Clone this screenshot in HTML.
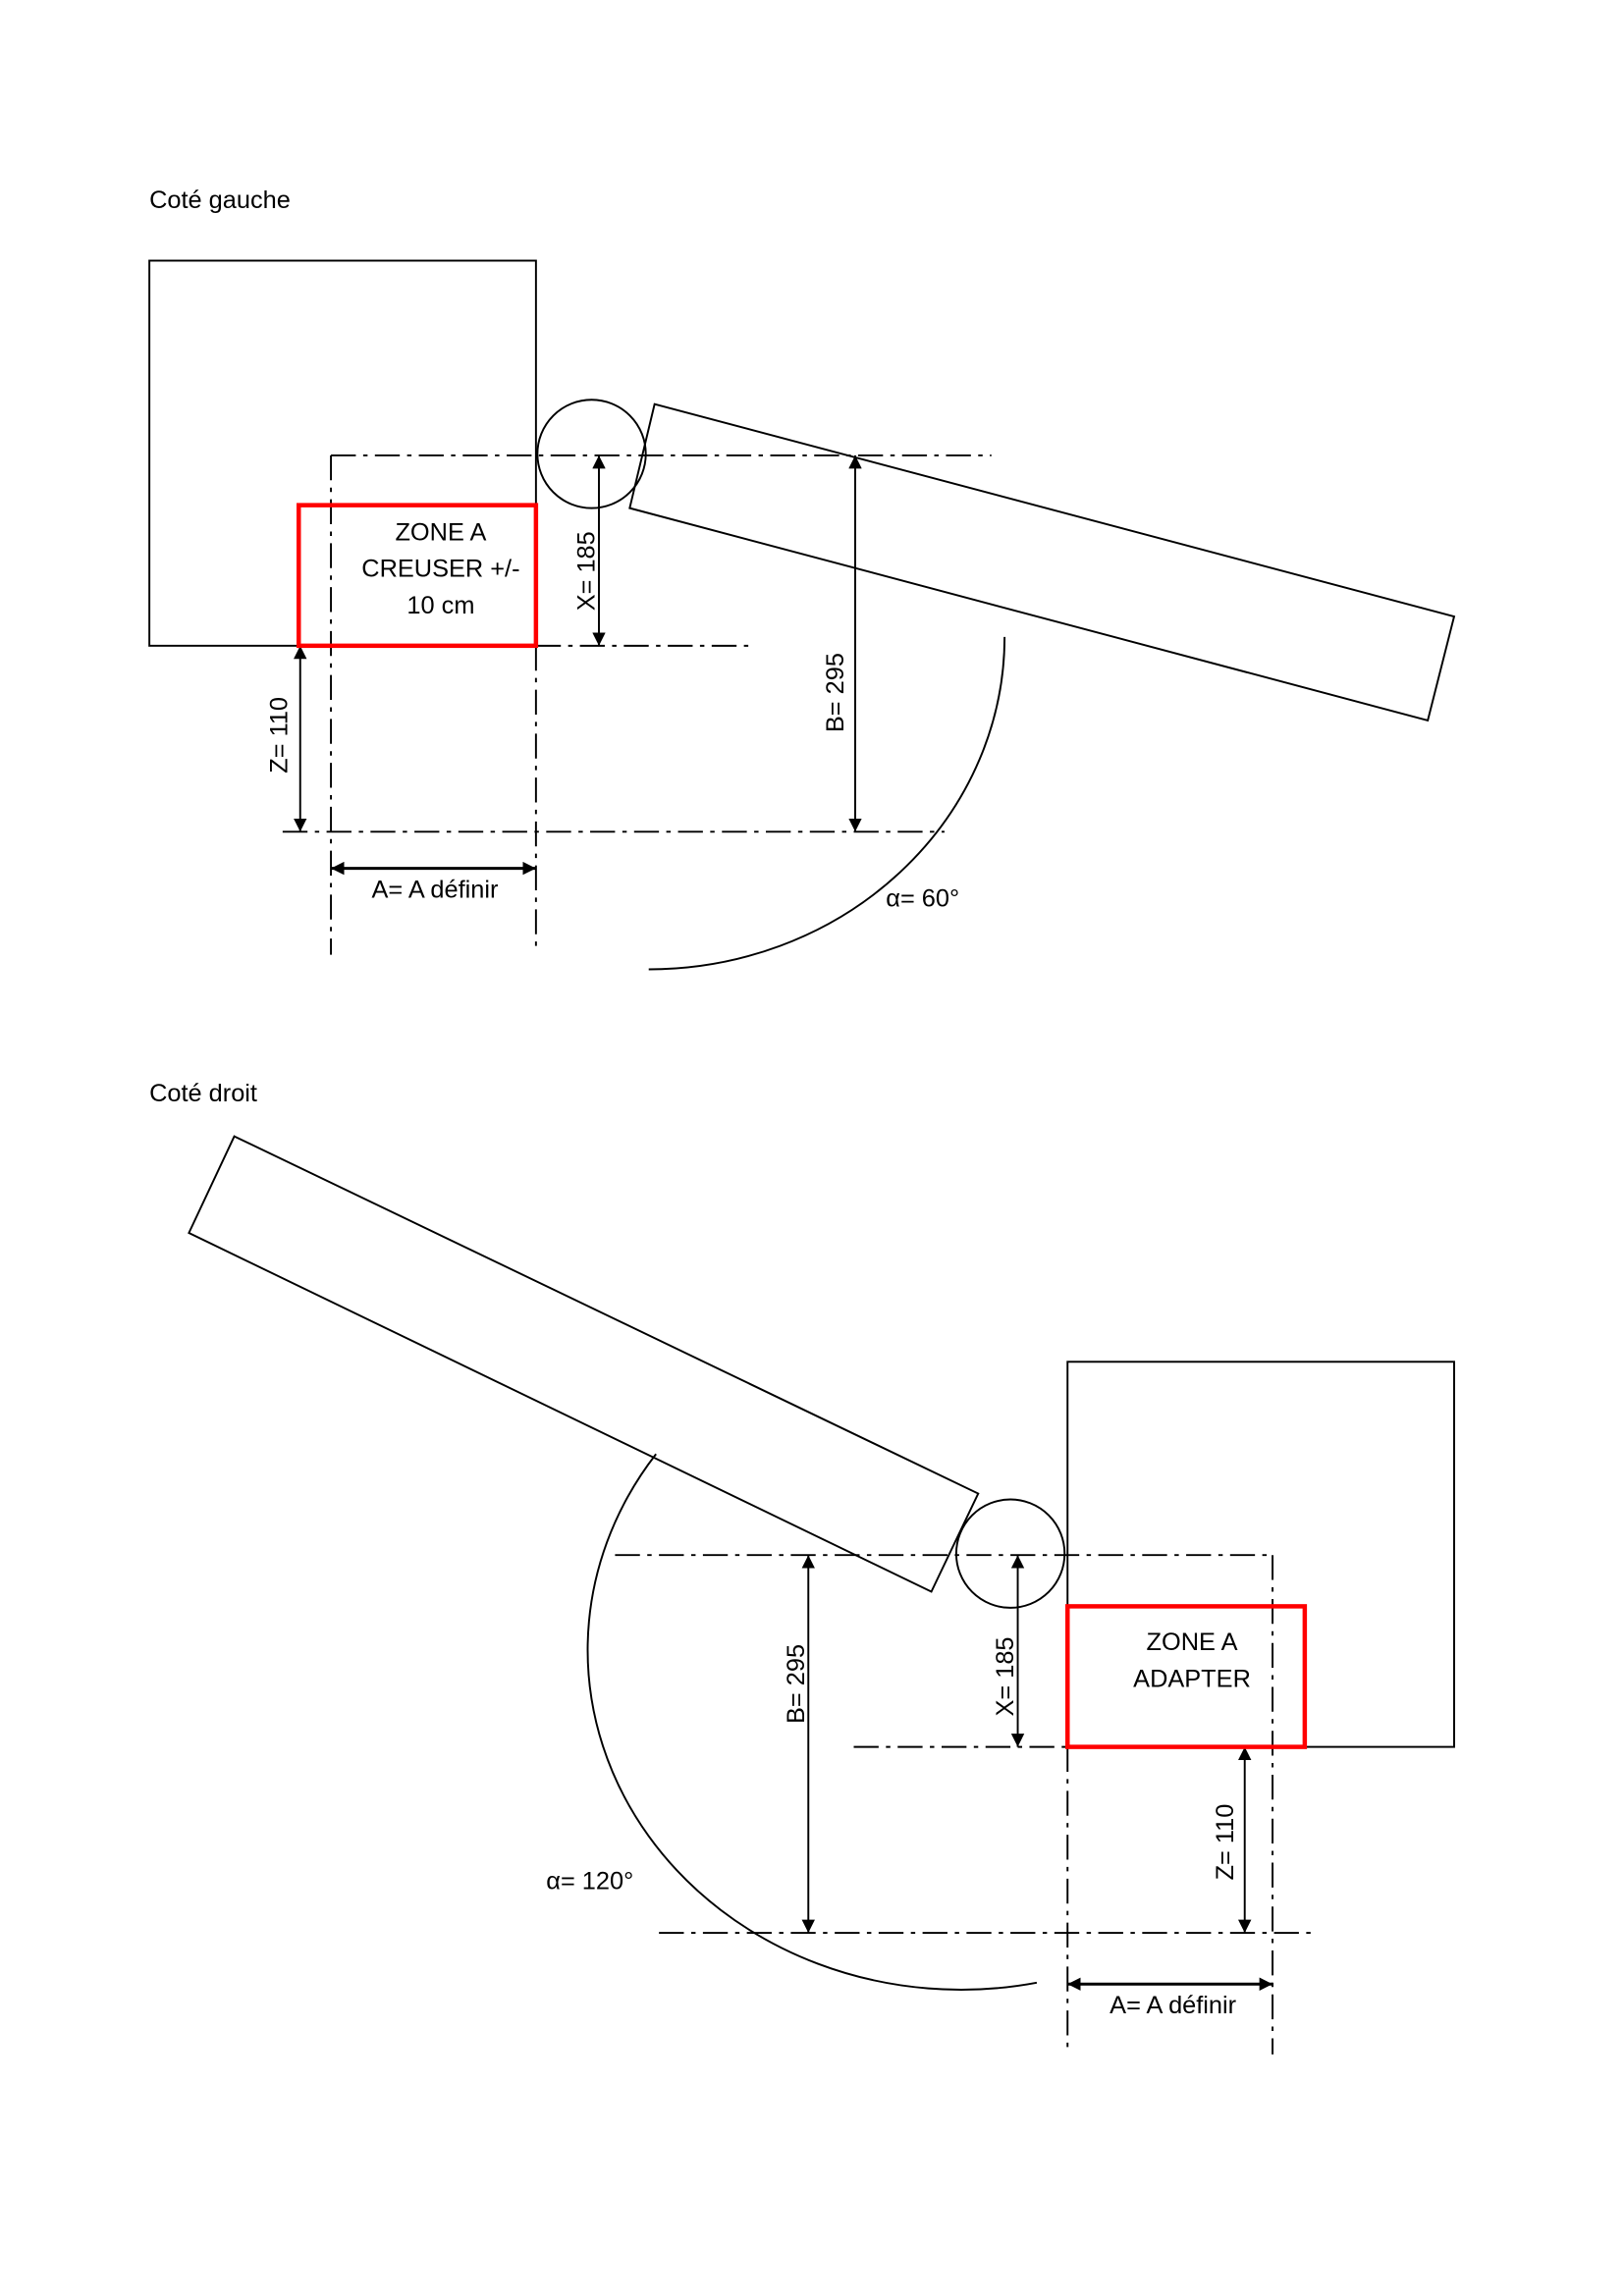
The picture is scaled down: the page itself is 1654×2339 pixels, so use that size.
<!DOCTYPE html>
<html><head><meta charset="utf-8"><style>
html,body{margin:0;padding:0;background:#fff;}
svg{display:block;}
text{font-family:"Liberation Sans",sans-serif;fill:#000;}
</style></head><body>
<svg width="1654" height="2339" viewBox="0 0 1109 1568" preserveAspectRatio="none" xmlns="http://www.w3.org/2000/svg">
<defs>
<marker id="ar" viewBox="0 0 10 10" refX="10" refY="5" markerWidth="9" markerHeight="9" markerUnits="userSpaceOnUse" orient="auto-start-reverse"><path d="M0,0 L10,5 L0,10 z" fill="#000"/></marker>
</defs>
<g fill="none" stroke="#000" stroke-width="1.3">
<!-- TOP -->
<rect x="102" y="178" width="264" height="263"/>
<circle cx="404" cy="310" r="37"/>
<polygon points="447,276 993,421 975,492 430,347"/>
<g stroke-dasharray="17 5 3 5">
<line x1="226" y1="311" x2="677" y2="311"/>
<line x1="226" y1="311" x2="226" y2="652"/>
<line x1="366" y1="441" x2="366" y2="650"/>
<line x1="366" y1="441" x2="513" y2="441"/>
<line x1="193" y1="568" x2="645" y2="568"/>
</g>
<path d="M686,435 A243 227 0 0 1 443,662"/>
<line x1="409" y1="311" x2="409" y2="441" marker-start="url(#ar)" marker-end="url(#ar)"/>
<line x1="584" y1="311" x2="584" y2="568" marker-start="url(#ar)" marker-end="url(#ar)"/>
<line x1="205" y1="441" x2="205" y2="568" marker-start="url(#ar)" marker-end="url(#ar)"/>
<line x1="226" y1="593" x2="366" y2="593" stroke-width="2" marker-start="url(#ar)" marker-end="url(#ar)"/>
<rect x="204" y="345" width="162" height="96" stroke="#f00" stroke-width="3"/>
<!-- BOTTOM -->
<rect x="729" y="930" width="264" height="263"/>
<circle cx="690" cy="1061" r="37"/>
<polygon points="160,776 668,1020 636,1087 129,842"/>
<g stroke-dasharray="17 5 3 5">
<line x1="420" y1="1062" x2="869" y2="1062"/>
<line x1="869" y1="1062" x2="869" y2="1403"/>
<line x1="729" y1="1193" x2="729" y2="1403"/>
<line x1="583" y1="1193" x2="729" y2="1193"/>
<line x1="450" y1="1320" x2="900" y2="1320"/>
</g>
<path d="M448,993 A255 232 0 0 0 708,1354"/>
<line x1="695" y1="1062" x2="695" y2="1193" marker-start="url(#ar)" marker-end="url(#ar)"/>
<line x1="552" y1="1062" x2="552" y2="1320" marker-start="url(#ar)" marker-end="url(#ar)"/>
<line x1="850" y1="1193" x2="850" y2="1320" marker-start="url(#ar)" marker-end="url(#ar)"/>
<line x1="729" y1="1355" x2="869" y2="1355" stroke-width="2" marker-start="url(#ar)" marker-end="url(#ar)"/>
<rect x="729" y="1097" width="162" height="96" stroke="#f00" stroke-width="3"/>
</g>
<g font-size="17">
<text x="102" y="142">Coté gauche</text>
<text x="301" y="369" text-anchor="middle">ZONE A</text>
<text x="301" y="394" text-anchor="middle">CREUSER +/-</text>
<text x="301" y="419" text-anchor="middle">10 cm</text>
<text x="297" y="613" text-anchor="middle">A= A définir</text>
<text x="605" y="619">α= 60°</text>
<text transform="translate(406,390) rotate(-90)" text-anchor="middle">X= 185</text>
<text transform="translate(576,473) rotate(-90)" text-anchor="middle">B= 295</text>
<text transform="translate(196,502) rotate(-90)" text-anchor="middle">Z= 110</text>

<text x="102" y="752">Coté droit</text>
<text x="814" y="1127" text-anchor="middle">ZONE A</text>
<text x="814" y="1152" text-anchor="middle">ADAPTER</text>
<text x="801" y="1375" text-anchor="middle">A= A définir</text>
<text x="373" y="1290">α= 120°</text>
<text transform="translate(692,1145) rotate(-90)" text-anchor="middle">X= 185</text>
<text transform="translate(549,1150) rotate(-90)" text-anchor="middle">B= 295</text>
<text transform="translate(842,1258) rotate(-90)" text-anchor="middle">Z= 110</text>
</g>
</svg>
</body></html>
